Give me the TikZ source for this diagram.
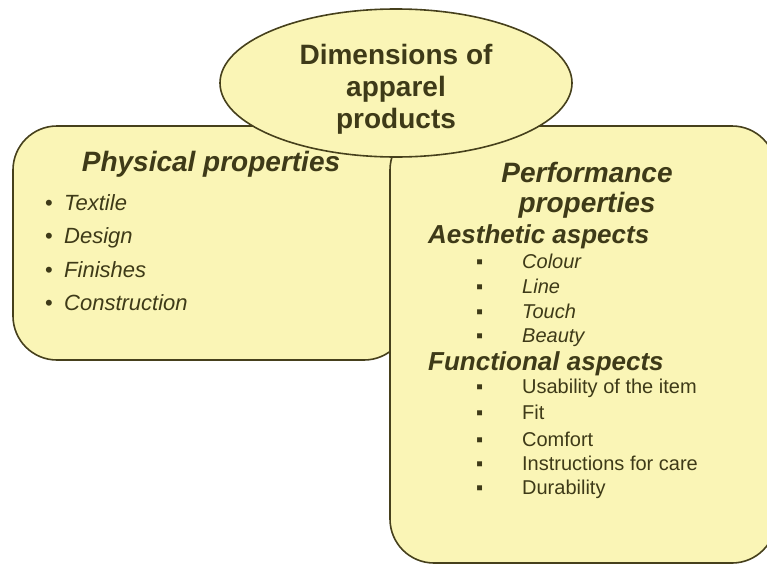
\documentclass[tikz,border=0pt]{standalone}
\usepackage{fontspec}
\setmainfont{Liberation Sans}
\usetikzlibrary{shapes.geometric}
\definecolor{paleyellow}{RGB}{250,245,182}
\definecolor{boxedge}{RGB}{70,64,28}
\definecolor{inkbrown}{RGB}{62,58,24}
\tikzset{
  panel/.style={draw=boxedge, fill=paleyellow, line width=1.6pt, rounded corners=44pt},
  heading/.style={text=inkbrown, align=center, inner sep=0pt, font=\fontsize{28}{30}\selectfont\bfseries\itshape},
  subhead/.style={text=inkbrown, anchor=base west, inner sep=0pt, font=\fontsize{26}{28}\selectfont\bfseries\itshape},
  dotitem/.style={text=inkbrown, anchor=base west, inner sep=0pt, font=\fontsize{22}{24}\selectfont\itshape},
  sqitem/.style={text=inkbrown, anchor=base west, inner sep=0pt, font=\fontsize{20}{22}\selectfont},
}
\newcommand{\dotmark}{\makebox[19pt][l]{\upshape•}}
\newcommand{\sqmark}{\makebox[46pt][l]{\upshape▪}}
\begin{document}
\begin{tikzpicture}[x=1pt, y=-1pt]
    \useasboundingbox (0,0) rectangle (767,565);
    \fill[white] (0,0) rectangle (767,565);
    % the two panels and the title ellipse on top
    \draw[panel] (13,126) rectangle (408,360);
    \draw[panel] (390,126) rectangle (776,563);
    \node[ellipse, draw=boxedge, fill=paleyellow, line width=1.6pt,
          minimum width=352pt, minimum height=148pt] (dims) at (396,83) {};
    \node[heading, font=\fontsize{28}{32}\selectfont\bfseries] (dimstext) at (396,89)
        {Dimensions of\\apparel\\products};
    % physical side
    \node[heading] (phys) at (211,164) {Physical properties};
    \node[dotitem] (textile) at (45,210) {\dotmark Textile};
    \node[dotitem] (design) at (45,243) {\dotmark Design};
    \node[dotitem] (finish) at (45,277) {\dotmark Finishes};
    \node[dotitem] (constr) at (45,310) {\dotmark Construction};
    % performance side
    \node[heading] (perf) at (587,190) {Performance\\properties};
    \node[subhead] (aesth) at (428,243) {Aesthetic aspects};
    \node[sqitem, font=\fontsize{20}{22}\selectfont\itshape] (colour) at (476,268) {\sqmark Colour};
    \node[sqitem, font=\fontsize{20}{22}\selectfont\itshape] (line) at (476,293) {\sqmark Line};
    \node[sqitem, font=\fontsize{20}{22}\selectfont\itshape] (touch) at (476,318) {\sqmark Touch};
    \node[sqitem, font=\fontsize{20}{22}\selectfont\itshape] (beauty) at (476,342) {\sqmark Beauty};
    \node[subhead] (funct) at (428,370) {Functional aspects};
    \node[sqitem] (usab) at (476,393) {\sqmark Usability of the item};
    \node[sqitem] (fit) at (476,419) {\sqmark Fit};
    \node[sqitem] (comfort) at (476,446) {\sqmark Comfort};
    \node[sqitem] (care) at (476,470) {\sqmark Instructions for care};
    \node[sqitem] (durab) at (476,494) {\sqmark Durability};
\end{tikzpicture}
\end{document}
